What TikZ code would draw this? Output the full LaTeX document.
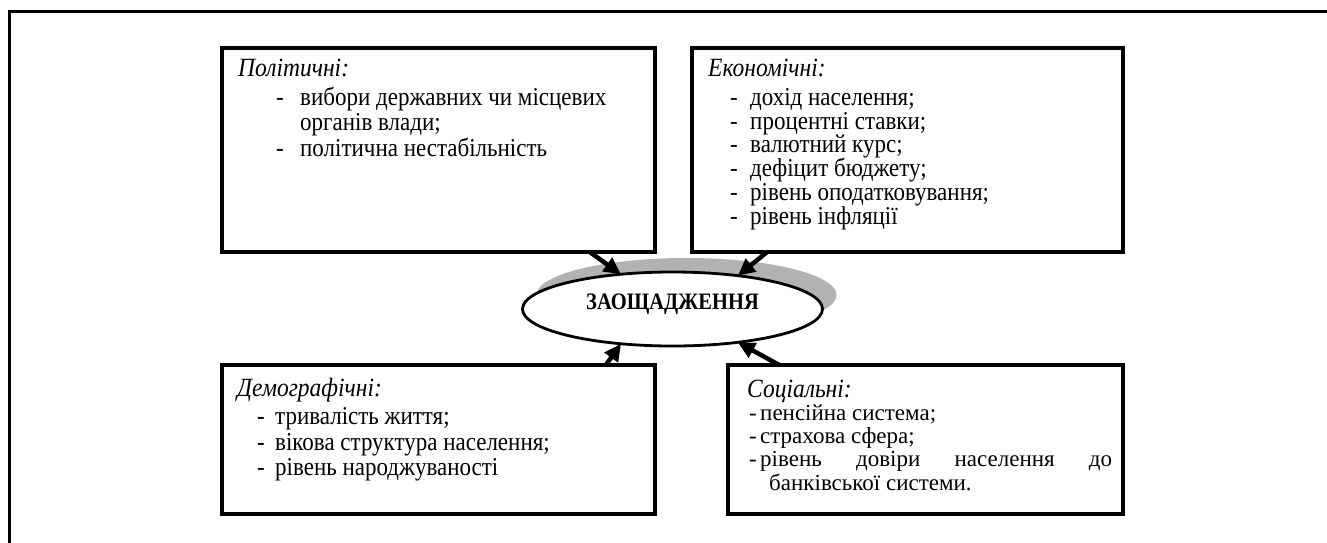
\documentclass[tikz,border=0pt]{standalone}
\usepackage{graphicx}
\usepackage{fontspec}
\setmainfont{Liberation Serif}
\usetikzlibrary{shapes.geometric,arrows.meta}
\newcommand\itemdash[1]{\makebox[#1][l]{-}}
\newcommand\tallt[1]{\scalebox{1}[1.12]{#1}}
\begin{document}
\begin{tikzpicture}[x=1pt,y=-1pt,
	box/.style={draw, line width=3.2pt, rectangle, inner sep=0pt, outer sep=0pt, anchor=north west},
	txt/.style={anchor=base west, inner sep=0pt, font=\fontsize{23}{27}\selectfont},
	ttl/.style={anchor=base west, inner sep=0pt, font=\fontsize{23.5}{27}\selectfont\itshape},
	oval/.style={ellipse, minimum width=300pt, minimum height=74pt, inner sep=0pt, outer sep=0pt},
	arr/.style={line width=4.5pt, -{Triangle[length=17pt,width=16pt]}}]
		\clip (0,0) rectangle (1327,542);
		\draw[line width=3pt] (9,11) rectangle (1340,560);

		\node[box, minimum width=433pt, minimum height=204pt] (pol) at (222,48) {};
		\node[box, minimum width=431pt, minimum height=204pt] (econ) at (692,48) {};
		\node[box, minimum width=433pt, minimum height=149pt] (demo) at (222,365) {};
		\node[box, minimum width=395pt, minimum height=149pt] (soc) at (728,365) {};

		\node[ttl] (polt) at (238,76) {\tallt{Політичні:}};
		\node[txt] (pol1) at (276,105) {\tallt{\itemdash{24pt}вибори державних чи місцевих}};
		\node[txt] (pol2) at (300,130) {\tallt{органів влади;}};
		\node[txt] (pol3) at (276,156) {\tallt{\itemdash{24pt}політична нестабільність}};

		\node[ttl] (econt) at (708,76) {\tallt{Економічні:}};
		\node[txt] (econ1) at (730,105) {\tallt{\itemdash{20pt}дохід населення;}};
		\node[txt] (econ2) at (730,129) {\tallt{\itemdash{20pt}процентні ставки;}};
		\node[txt] (econ3) at (730,152.5) {\tallt{\itemdash{20pt}валютний курс;}};
		\node[txt] (econ4) at (730,176.5) {\tallt{\itemdash{20pt}дефіцит бюджету;}};
		\node[txt] (econ5) at (730,200) {\tallt{\itemdash{20pt}рівень оподатковування;}};
		\node[txt] (econ6) at (730,224) {\tallt{\itemdash{20pt}рівень інфляції}};

		\node[ttl] (demot) at (237,396) {\tallt{Демографічні:}};
		\node[txt] (demo1) at (257,424.5) {\tallt{\itemdash{18pt}тривалість життя;}};
		\node[txt] (demo2) at (257,450) {\tallt{\itemdash{18pt}вікова структура населення;}};
		\node[txt] (demo3) at (257,475) {\tallt{\itemdash{18pt}рівень народжуваності}};

		\node[ttl] (soct) at (747,397) {\tallt{Соціальні:}};
		\node[txt] (soc1) at (749,420) {\itemdash{11pt}пенсійна система;};
		\node[txt] (soc2) at (749,443) {\itemdash{11pt}страхова сфера;};
		\node[txt] (soc3) at (749,466) {\hbox to 363pt{\itemdash{11pt}рівень\hfill довіри\hfill населення\hfill до}};
		\node[txt] (soc4) at (769,490) {банківської системи.};

		% ellipse with shadow
		\node[oval, fill=black!30] (zaoshadow) at (686.5,295) {};
		\node[oval, draw, line width=2.8pt, fill=white, text height=8pt, text depth=8pt,
			font=\fontsize{20.5}{24}\selectfont\bfseries] (zao) at (672.5,309) {\scalebox{1}[1.15]{ЗАОЩАДЖЕННЯ}};

		\draw[arr] (pol.-34.3) -- (zao.146.5);
		\draw[arr] (econ.216.6) -- (zao.27.3);
		\draw[arr] (demo.24.4) -- (zao.214.4);
		\draw[arr] (soc.153.4) -- (zao.333.9);
\end{tikzpicture}
\end{document}
